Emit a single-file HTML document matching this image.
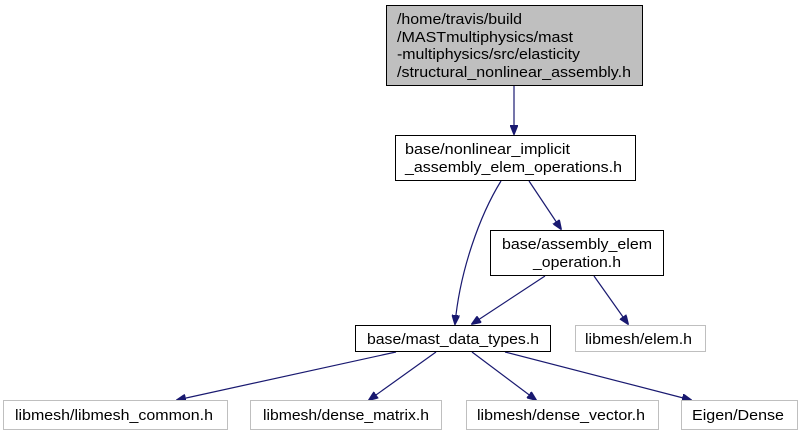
<!DOCTYPE html>
<html><head><meta charset="utf-8"><style>
html,body{margin:0;padding:0;background:#fff;}
svg{display:block;}
text{font-family:"Liberation Sans",Helvetica,Arial,sans-serif;font-size:15px;fill:#000;}
</style></head><body>
<svg width="801" height="436" viewBox="0 0 801 436" xmlns="http://www.w3.org/2000/svg">
<defs><marker id="a" markerWidth="10" markerHeight="8" refX="9" refY="4" orient="auto" markerUnits="userSpaceOnUse"><path d="M0,0 L10,4 L0,8 z" fill="#191970" stroke="#191970"/></marker></defs>
<g fill="none" stroke="#191970" stroke-width="1.2">
<path d="M514,86 L514,134" marker-end="url(#a)"/>
<path d="M501,181 C480,215 460,270 455,324" marker-end="url(#a)"/>
<path d="M529,181 L561,229" marker-end="url(#a)"/>
<path d="M545,276 L472,324" marker-end="url(#a)"/>
<path d="M594,276 L628,324" marker-end="url(#a)"/>
<path d="M396,352 L177,400" marker-end="url(#a)"/>
<path d="M436,352 L369,400" marker-end="url(#a)"/>
<path d="M472,352 L536,400" marker-end="url(#a)"/>
<path d="M505,352 L691,400" marker-end="url(#a)"/>
</g>
<rect x="386.5" y="5.5" width="256" height="80" fill="#bfbfbf" stroke="#000"/>
<text x="397" y="24" textLength="125" lengthAdjust="spacingAndGlyphs">/home/travis/build</text>
<text x="397" y="42" textLength="176" lengthAdjust="spacingAndGlyphs">/MASTmultiphysics/mast</text>
<text x="397" y="59" textLength="183" lengthAdjust="spacingAndGlyphs">-multiphysics/src/elasticity</text>
<text x="397" y="77" textLength="234" lengthAdjust="spacingAndGlyphs">/structural_nonlinear_assembly.h</text>
<rect x="395.5" y="135.5" width="240" height="45" fill="#fff" stroke="#000"/>
<text x="405" y="154" textLength="165" lengthAdjust="spacingAndGlyphs">base/nonlinear_implicit</text>
<text x="405" y="172" textLength="217" lengthAdjust="spacingAndGlyphs">_assembly_elem_operations.h</text>
<rect x="490.5" y="230.5" width="173" height="45" fill="#fff" stroke="#000"/>
<text x="502" y="249" textLength="150" lengthAdjust="spacingAndGlyphs">base/assembly_elem</text>
<text x="533" y="267" textLength="88" lengthAdjust="spacingAndGlyphs">_operation.h</text>
<rect x="355.5" y="325.5" width="195" height="26" fill="#fff" stroke="#000"/>
<text x="367" y="344" textLength="172" lengthAdjust="spacingAndGlyphs">base/mast_data_types.h</text>
<rect x="575.5" y="325.5" width="130" height="26" fill="#fff" stroke="#bfbfbf"/>
<text x="585" y="344" textLength="107" lengthAdjust="spacingAndGlyphs">libmesh/elem.h</text>
<rect x="3.5" y="400.5" width="224" height="29" fill="#fff" stroke="#bfbfbf"/>
<text x="15" y="420" textLength="198" lengthAdjust="spacingAndGlyphs">libmesh/libmesh_common.h</text>
<rect x="250.5" y="400.5" width="191" height="29" fill="#fff" stroke="#bfbfbf"/>
<text x="263" y="420" textLength="166" lengthAdjust="spacingAndGlyphs">libmesh/dense_matrix.h</text>
<rect x="466.5" y="400.5" width="192" height="29" fill="#fff" stroke="#bfbfbf"/>
<text x="477" y="420" textLength="168" lengthAdjust="spacingAndGlyphs">libmesh/dense_vector.h</text>
<rect x="681.5" y="400.5" width="116" height="29" fill="#fff" stroke="#bfbfbf"/>
<text x="692" y="420" textLength="92" lengthAdjust="spacingAndGlyphs">Eigen/Dense</text>
</svg>
</body></html>
